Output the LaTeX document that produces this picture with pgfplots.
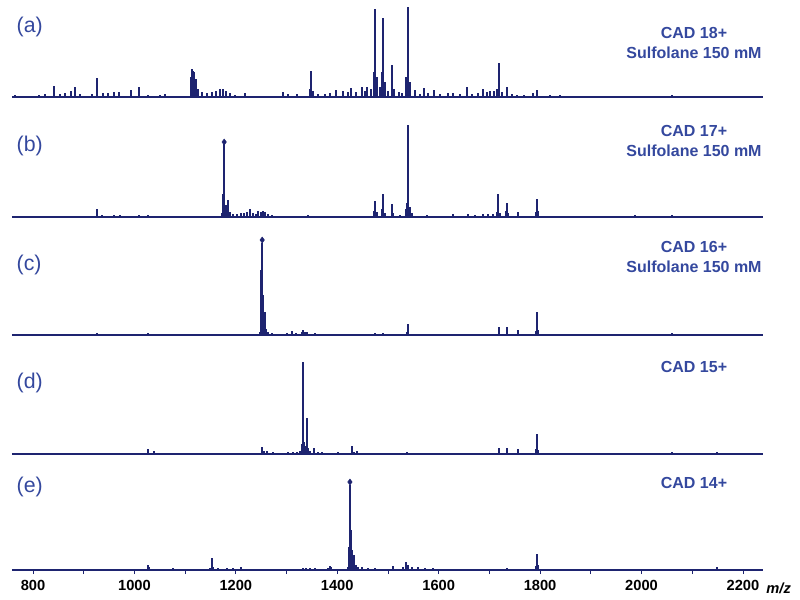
\documentclass[border=0pt]{standalone}
\usepackage{fontspec}
\setmainfont{Liberation Sans}
\usepackage{pgfplots}
\pgfplotsset{compat=1.18}
\definecolor{specblue}{RGB}{30,36,112}
\definecolor{txtblue}{RGB}{52,72,158}

\pgfplotsset{
  spec/.style={
    scale only axis, width=563.25pt, height=75pt,
    xmin=758.6, xmax=2239.6, ymin=0, ymax=100,
    axis x line=bottom, axis y line=none,
    axis line style={-, specblue, line width=0.8pt},
    xtick=\empty, ytick=\empty, clip=false,
    anchor=south west,
  },
  peaks/.style={ycomb, specblue, line width=1.25pt, mark=none},
  apex/.style={only marks, mark=diamond*, mark size=2.2pt, specblue},
}

\begin{document}
\begin{tikzpicture}
\useasboundingbox (0,0) rectangle (600pt,450pt);

% (a) CAD 18+, sulfolane
\begin{axis}[spec, at={(9pt,377.25pt)}]
\addplot[peaks] coordinates {
(764,2)(812,2)(824,3)(841,11)(853,3)(863,4)(875,6)(883,10)(893,3)(916,3)
(926,19)(938,4)(948,4)(960,5)(970,5)(993,7)(1009,10)(1027,2)(1050,2)(1060,3)
(1112,20)(1114,28)(1116,26)(1118,25)(1121,18)(1125,8)(1133,5)(1143,4)(1153,5)(1161,6)
(1169,8)(1175,8)(1181,6)(1188,4)(1198,2)(1218,4)(1258,1)(1293,5)(1303,3)(1321,3)
(1346,8)(1348,26)(1352,6)(1362,3)(1376,3)(1386,4)(1398,7)(1411,6)(1421,5)(1427,9)
(1437,5)(1449,10)(1455,6)(1459,10)(1467,8)(1473,25)(1474,88)(1478,20)(1484,10)(1488,25)
(1490,79)(1494,15)(1500,6)(1508,32)(1512,8)(1522,5)(1528,4)(1536,20)(1540,90)(1544,15)
(1553,7)(1563,3)(1571,9)(1579,4)(1591,7)(1603,3)(1618,4)(1628,4)(1642,3)(1656,10)
(1666,3)(1678,4)(1687,8)(1695,5)(1701,6)(1709,6)(1715,8)(1719,34)(1725,5)(1735,10)
(1745,3)(1755,2)(1768,2)(1786,4)(1794,7)(1819,2)(1839,2)(1859,1)(1892,1)(1912,1)
(1952,1)(1983,1)(2023,1)(2042,1)(2060,2)
};
\end{axis}

% (b) CAD 17+, sulfolane
\begin{axis}[spec, at={(9pt,287.25pt)}]
\addplot[peaks] coordinates {
(822,1)(839,1)(926,8)(936,2)(948,1)(960,2)(972,2)(993,1)(1009,2)(1027,2)
(1062,1)(1119,1)(1159,1)(1173,4)(1175,23)(1177,73)(1181,12)(1185,17)(1188,5)(1194,3)
(1202,3)(1210,4)(1216,4)(1222,5)(1228,8)(1234,4)(1240,3)(1244,6)(1250,5)(1254,6)
(1258,5)(1263,3)(1271,2)(1307,1)(1342,2)(1386,1)(1415,1)(1445,1)(1472,6)(1474,16)
(1478,5)(1488,8)(1490,23)(1494,4)(1508,13)(1510,4)(1524,2)(1536,8)(1538,14)(1540,92)
(1544,10)(1548,4)(1559,1)(1577,2)(1589,1)(1603,1)(1628,3)(1642,1)(1658,3)(1672,2)
(1687,3)(1697,3)(1707,3)(1715,5)(1717,23)(1721,4)(1733,6)(1735,14)(1737,4)(1756,5)
(1776,1)(1792,5)(1794,18)(1796,6)(1833,1)(1859,1)(1912,1)(1952,1)(1987,2)(2023,1)
(2060,2)
};
\addplot[apex] coordinates {(1177,75)};
\end{axis}

% (c) CAD 16+, sulfolane
\begin{axis}[spec, at={(9pt,198.75pt)}]
\addplot[peaks] coordinates {
(839,1)(926,2)(936,1)(962,1)(972,1)(1027,2)(1194,1)(1238,1)(1248,3)(1250,65)
(1252,92)(1254,40)(1256,10)(1258,23)(1260,6)(1263,3)(1271,2)(1287,1)(1301,2)(1311,4)
(1319,2)(1330,3)(1332,5)(1336,3)(1340,3)(1348,1)(1356,2)(1474,2)(1490,2)(1508,1)
(1538,3)(1540,11)(1628,1)(1658,1)(1687,1)(1699,1)(1719,8)(1735,8)(1756,5)(1776,1)
(1792,4)(1794,23)(1796,5)(1841,1)(1983,1)(2060,2)(2149,1)
};
\addplot[apex] coordinates {(1252,95)};
\end{axis}

% (d) CAD 15+
\begin{axis}[spec, at={(9pt,109.5pt)}, axis line style={-, specblue, line width=1.4pt}]
\addplot[peaks] coordinates {
(926,1)(972,1)(1027,5)(1039,3)(1054,1)(1064,1)(1076,1)(1252,7)(1256,3)(1261,3)
(1273,2)(1303,2)(1313,2)(1321,2)(1327,3)(1330,10)(1332,92)(1334,12)(1336,8)(1340,36)
(1342,6)(1346,3)(1354,6)(1362,2)(1370,2)(1378,1)(1401,2)(1429,8)(1433,2)(1439,3)
(1474,1)(1490,1)(1538,2)(1719,6)(1735,6)(1756,5)(1776,1)(1792,5)(1794,20)(1796,4)
(2060,2)(2149,2)
};
\end{axis}

% (e) CAD 14+
\begin{axis}[spec, at={(9pt,22.5pt)},
  xtick={800,1000,...,2200}, minor xtick={900,1100,...,2100},
  tick align=outside, major tick length=3pt, minor tick length=3pt,
  tick style={specblue, line width=0.6pt},
  /pgf/number format/assume math mode=true,
  /pgf/number format/1000 sep={},
  xticklabel style={font=\fontsize{11}{13}\selectfont\bfseries, text=black, yshift=-1.5pt}]
\addplot[peaks] coordinates {
(794,1)(824,1)(1027,5)(1029,3)(1050,1)(1060,1)(1076,2)(1129,1)(1139,1)(1149,2)
(1153,12)(1155,3)(1165,2)(1183,2)(1194,2)(1210,3)(1267,1)(1307,1)(1332,2)(1338,2)
(1346,2)(1356,2)(1366,1)(1382,2)(1386,4)(1388,3)(1421,3)(1423,23)(1425,85)(1427,40)
(1429,20)(1431,10)(1433,15)(1437,5)(1441,3)(1449,3)(1461,2)(1474,2)(1494,1)(1510,4)
(1530,3)(1536,8)(1540,5)(1548,3)(1559,3)(1573,2)(1589,2)(1603,1)(1642,1)(1681,1)
(1711,1)(1735,2)(1760,1)(1792,4)(1794,16)(1796,5)(1810,1)(1839,1)(1918,1)(1997,1)
(2036,1)(2076,1)(2149,3)(2174,1)
};
\addplot[apex] coordinates {(1425,88)};
\end{axis}

% panel letters
\begin{scope}[every node/.style={anchor=west, text=txtblue, font=\fontsize{16}{18}\selectfont}]
\node at (9pt,429.75pt) {(a)};
\node at (9pt,340.5pt) {(b)};
\node at (9pt,251.25pt) {(c)};
\node at (9pt,162.75pt) {(d)};
\node at (9pt,84.75pt) {(e)};
\end{scope}

% conditions
\begin{scope}[every node/.style={text=txtblue, font=\fontsize{12}{14}\selectfont\bfseries}]
\node at (520.5pt,425.25pt) {CAD 18+};
\node at (520.5pt,410.25pt) {Sulfolane 150 mM};
\node at (520.5pt,351.75pt) {CAD 17+};
\node at (520.5pt,336.75pt) {Sulfolane 150 mM};
\node at (520.5pt,264.75pt) {CAD 16+};
\node at (520.5pt,249.75pt) {Sulfolane 150 mM};
\node at (520.5pt,174.75pt) {CAD 15+};
\node at (520.5pt,87.75pt) {CAD 14+};
\end{scope}

\node[font=\fontsize{11}{13}\selectfont\bfseries\itshape] at (584pt,9pt) {m/z};
\end{tikzpicture}
\end{document}
